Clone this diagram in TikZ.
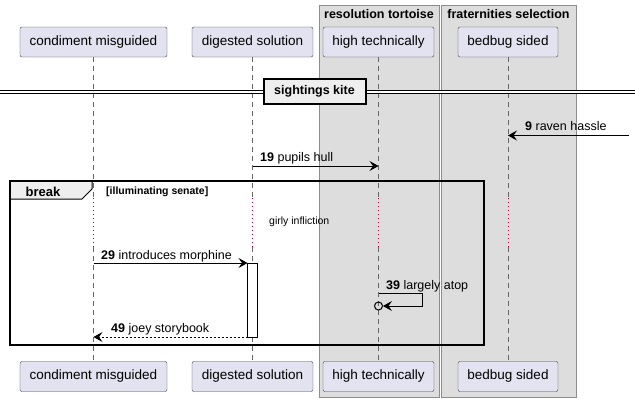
\documentclass[tikz,border=0pt]{standalone}
\usepackage{fontspec}
\setmainfont{Liberation Sans}
\usepackage{xcolor}
\usepackage{tikz}
\usetikzlibrary{arrows.meta}

\definecolor{actorblue}{HTML}{E2E2F0}
\definecolor{boxgrey}{HTML}{DDDDDD}
\definecolor{tabgrey}{HTML}{EEEEEE}
\definecolor{delayred}{HTML}{A80036}

\begin{document}
\begin{tikzpicture}[x=1pt,y=-1pt,
  actor/.style={draw=black!75,fill=actorblue,rounded corners=2pt,minimum height=30pt,inner sep=0pt,font=\fontsize{13.5}{15}\selectfont},
  life/.style={draw=black!60,dash pattern=on 5pt off 4pt,line width=0.5pt},
  wait/.style={draw=delayred,dash pattern=on 1pt off 3pt,line width=0.9pt},
  msg/.style={line width=0.9pt,-{Stealth[length=9pt,width=10pt,inset=3.5pt]}},
  lbl/.style={anchor=base west,inner sep=0pt,font=\fontsize{12.5}{15}\selectfont},
  head/.style={inner sep=0pt,font=\fontsize{12.5}{15}\selectfont\bfseries},
  groupbox/.style={draw=black!45,fill=boxgrey}]
\useasboundingbox (0,0) rectangle (635,402);

% boxes
\draw[groupbox] (319,5) rectangle (439,397);
\draw[groupbox] (441,5) rectangle (576,397);
\node (tortoise) at (379,14) [head] {resolution tortoise};
\node (selection) at (508.5,14) [head] {fraternities selection};

% participants
\node (cmT) at (93.5,42) [actor,minimum width=147pt] {condiment misguided};
\node (dsT) at (252.5,42) [actor,minimum width=121pt] {digested solution};
\node (htT) at (378.5,42) [actor,minimum width=111pt] {high technically};
\node (bsT) at (508,42) [actor,minimum width=100pt] {bedbug sided};
\node (cmB) at (93.5,376.5) [actor,minimum width=147pt] {condiment misguided};
\node (dsB) at (252.5,376.5) [actor,minimum width=121pt] {digested solution};
\node (htB) at (378.5,376.5) [actor,minimum width=111pt] {high technically};
\node (bsB) at (508,376.5) [actor,minimum width=100pt] {bedbug sided};

% lifelines
\coordinate (cmW1) at (93.5,198);
\coordinate (cmW2) at (93.5,247);
\coordinate (dsW1) at (252.5,198);
\coordinate (dsW2) at (252.5,247);
\coordinate (htW1) at (378.5,198);
\coordinate (htW2) at (378.5,247);
\coordinate (bsW1) at (508,198);
\coordinate (bsW2) at (508,247);
\draw[life] (cmT) -- (cmW1);
\draw[wait] (cmW1) -- (cmW2);
\draw[life] (cmW2) -- (cmB);
\draw[life] (dsT) -- (dsW1);
\draw[wait] (dsW1) -- (dsW2);
\draw[life] (dsW2) -- (dsB);
\draw[life] (htT) -- (htW1);
\draw[wait] (htW1) -- (htW2);
\draw[life] (htW2) -- (htB);
\draw[life] (bsT) -- (bsW1);
\draw[wait] (bsW1) -- (bsW2);
\draw[life] (bsW2) -- (bsB);

% divider
\coordinate (divL) at (0,91.7);
\coordinate (divR) at (635,91.7);
\draw[double,double distance=2pt,line width=1pt] (divL) -- (divR);
\node (kite) at (314.5,91) [draw,fill=tabgrey,line width=2pt,minimum width=102pt,minimum height=25pt,inner sep=0pt,font=\fontsize{12.5}{15}\selectfont\bfseries] {sightings kite};

% 9
\coordinate (edge9) at (629,135.5);
\coordinate (bs9) at (508,135.5);
\draw[msg] (edge9) -- (bs9);
\node (m9) at (525,130.5) [lbl] {\textbf{9} raven hassle};

% 19
\coordinate (ds19) at (252.5,166);
\coordinate (ht19) at (378.5,166);
\draw[msg] (ds19) -- (ht19);
\node (m19) at (260,161) [lbl] {\textbf{19} pupils hull};

% break
\node (frame) at (247,263) [minimum width=474pt,minimum height=164pt,inner sep=0pt] {};
\draw[fill=tabgrey,line width=1pt] (frame.north west) -- (92,181) -- (92,189) -- (82,199) -- (10,199) -- cycle;
\draw[line width=2pt] (frame.north west) rectangle (frame.south east);
\node (brk) at (43,196) [anchor=base,inner sep=0pt,font=\fontsize{13}{15}\selectfont\bfseries] {break};
\node (guard) at (106,194) [anchor=base west,inner sep=0pt,font=\fontsize{10.5}{12}\selectfont\bfseries] {[illuminating senate]};

% delay
\node (delay) at (269,224.5) [anchor=base west,inner sep=0pt,font=\fontsize{10.5}{12}\selectfont] {girly infliction};

% 29
\node (act) at (252.5,300) [draw,fill=white,line width=0.9pt,minimum width=10pt,minimum height=74pt,inner sep=0pt] {};
\coordinate (cm29) at (93.5,263);
\coordinate (ds29) at (247.5,263);
\draw[msg] (cm29) -- (ds29);
\node (m29) at (101,259) [lbl] {\textbf{29} introduces morphine};

% 39
\coordinate (ht39) at (378.5,293);
\node (lost) at (378.5,306) [circle,draw,line width=1pt,minimum size=8pt,inner sep=0pt] {};
\draw[msg] (ht39) -- (422,293) |- (lost.east);
\node (m39) at (386,289) [lbl] {\textbf{39} largely atop};

% 49
\coordinate (ds49) at (247.5,337);
\coordinate (cm49) at (93.5,337);
\draw[msg,dash pattern=on 2pt off 2pt] (ds49) -- (cm49);
\node (m49) at (111,332) [lbl] {\textbf{49} joey storybook};
\end{tikzpicture}
\end{document}
